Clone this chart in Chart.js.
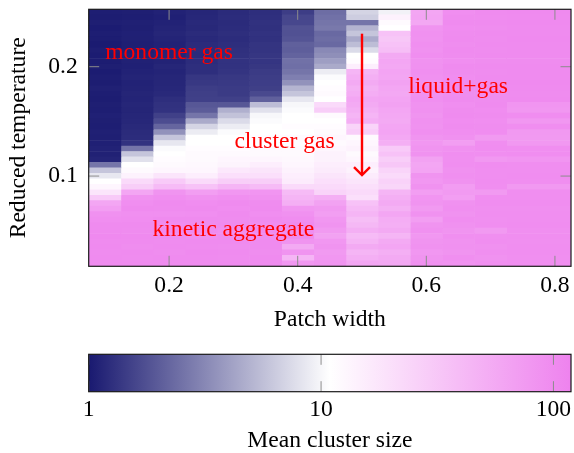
<!DOCTYPE html>
<html>
<head>
<meta charset="utf-8">
<script src="https://cdn.jsdelivr.net/npm/chart.js@4.4.1/dist/chart.umd.min.js"></script>
<style>
  html, body { margin: 0; padding: 0; background: #fff; }
  #wrap { position: relative; width: 574px; height: 453px; }
  #main { position: absolute; left: 0; top: 0; }
  #bar { position: absolute; left: 0; top: 340px; }
</style>
</head>
<body>
<div id="wrap">
  <canvas id="main" width="574" height="340"></canvas>
  <canvas id="bar" width="574" height="113"></canvas>
</div>
<script>
// reduced temperature of each row, top to bottom
const temps = [0.25, 0.245, 0.24, 0.235, 0.23, 0.225, 0.22, 0.215, 0.21, 0.205, 0.2,
  0.195, 0.19, 0.185, 0.18, 0.175, 0.17, 0.165, 0.16, 0.155, 0.15,
  0.145, 0.14, 0.135, 0.13, 0.125, 0.12, 0.115, 0.11, 0.105, 0.1,
  0.095, 0.09, 0.085, 0.08, 0.075, 0.07, 0.065, 0.06, 0.055, 0.05,
  0.045, 0.04, 0.035, 0.03, 0.025, 0.02];

// patch width cell edges (last column is wider)
const xEdges = [0.075, 0.125, 0.175, 0.225, 0.275, 0.325, 0.375, 0.425, 0.475, 0.525, 0.575, 0.625, 0.675, 0.725, 0.825];

// mean cluster size per patch width column, rows follow temps
const w010 = [1.05,1.04,1.06,1.03,1.05,1.04,1.02,1.05,1.03,1.04,1.06,1.03,1.05,1.04,1.07,1.05,1.04,1.06,1.05,1.08,1.06,1.05,1.07,1.06,1.08,1.10,1.09,1.12,2.6,6,8.5,11,13,18,30,60,70,90,95,100,100,105,100,102,98,100,100];
const w015 = [1.06,1.05,1.07,1.06,1.08,1.07,1.06,1.08,1.1,1.09,1.08,1.1,1.12,1.1,1.11,1.13,1.12,1.14,1.13,1.15,1.16,1.18,1.2,1.22,1.3,2.6,6,8,11,12,14,22,28,60,88,95,100,92,96,100,98,102,100,97,100,99,101];
const w020 = [1.1,1.08,1.1,1.12,1.15,1.12,1.1,1.12,1.13,1.11,1.14,1.12,1.15,1.14,1.16,1.18,1.25,1.28,1.3,1.5,1.7,2.2,3.5,6,8.5,10.5,11,11.5,12,13,18,30,40,85,95,100,98,92,100,96,100,102,99,100,97,100,100];
const w025 = [1.15,1.16,1.18,1.17,1.2,1.18,1.2,1.22,1.2,1.22,1.24,1.25,1.35,1.38,1.45,1.48,1.5,1.9,2.0,2.6,4.5,7,9,11,11,11.5,12,12,12.5,13,15,22,35,70,88,96,100,95,100,98,100,96,100,99,102,100,100];
const w030 = [1.2,1.22,1.2,1.22,1.24,1.22,1.25,1.27,1.28,1.3,1.3,1.32,1.38,1.4,1.42,1.42,1.5,1.9,4.8,5.8,7.5,9,10.5,11,11,11.5,12,13,13.5,17,20,28,45,80,92,100,96,100,98,100,95,100,100,97,100,99,100];
const w035 = [1.25,1.26,1.28,1.27,1.3,1.28,1.32,1.33,1.35,1.34,1.36,1.42,1.45,1.46,1.48,1.65,2.1,5.5,8,10,10.5,11,11,11.5,11,12,12,13,15,18,20,28,40,82,90,98,100,95,100,96,100,98,100,100,97,100,100];
const w040 = [1.45,1.6,1.62,1.8,1.78,1.85,2.1,2.05,2.15,2.5,2.45,2.6,2.9,3.5,5,6,8.5,10,10.5,11,11,11.5,11,12,11.5,12,12,12.5,13,14,15,16,22,40,45,50,80,90,96,100,95,100,85,55,85,45,80];
const w045 = [2.4,2.5,2.6,2.7,2.3,2.4,2.3,3.2,3.4,4,4.5,9,10.5,11,11.5,12,11,22,28,12,11,11.5,12,13,12,13,14,14,15,16,18,20,22,25,50,65,75,70,80,85,75,65,80,85,75,80,85];
const w050 = [7,6.5,2.6,5,6,4.5,5.5,7.5,11,11.5,15,45,50,55,48,52,60,55,50,45,50,25,28,12,13,14,12,13,15,14,16,18,20,22,20,35,40,45,38,42,50,40,45,55,45,50,60];
const w055 = [9.5,14,12,11,35,32,35,38,55,60,58,62,60,65,60,58,62,65,60,58,55,60,62,58,50,30,35,28,32,25,22,26,24,45,50,55,48,60,52,50,55,45,55,60,50,55,58];
const w060 = [60,62,58,85,90,88,92,90,95,88,90,92,90,88,95,90,92,88,90,85,90,88,92,85,80,85,88,65,60,62,85,80,88,70,82,85,75,88,70,85,90,80,85,88,80,85,90];
const w065 = [95,98,100,96,98,100,97,100,98,95,100,98,96,100,98,97,100,95,98,100,96,98,95,90,70,90,95,92,95,90,92,88,72,75,70,90,92,88,95,90,85,92,88,90,85,92,88];
const w070 = [100,98,100,97,100,99,100,98,100,97,100,98,100,99,100,97,98,100,96,98,95,97,96,75,95,96,94,78,96,95,94,96,95,75,94,96,93,95,92,94,75,92,95,90,93,88,92];
const w080 = [102,100,103,101,100,102,100,101,100,99,101,100,100,102,100,99,100,82,80,96,80,95,76,75,78,95,96,82,95,94,96,95,76,95,94,96,93,95,94,96,92,95,93,94,95,92,94];
const columns = [w010, w015, w020, w025, w030, w035, w040, w045, w050, w055, w060, w065, w070, w080];

const xTicks = [0.2, 0.4, 0.6, 0.8];
const yTicks = [0.1, 0.2];
const barTicks = [1, 10, 100];
const vMax = 119;

const labelTexts = ['monomer gas', 'cluster gas', 'liquid+gas', 'kinetic aggregate'];
const labelX = [0.2, 0.3795, 0.6495, 0.3];
const labelY = [0.2067, 0.1259, 0.1762, 0.0451];

const LOW = [25, 25, 112], MID = [255, 255, 255], HIGH = [238, 130, 238];
const FONT = '"Liberation Serif", "Times New Roman", serif';
const FS = 23.6;

Chart.defaults.font.family = FONT;
Chart.defaults.color = '#000';

function cmap(v) {
  let t = Math.log10(v) / Math.log10(vMax);
  t = Math.max(0, Math.min(1, t));
  let a, b, f;
  if (t < 0.5) { a = LOW; b = MID; f = t / 0.5; } else { a = MID; b = HIGH; f = (t - 0.5) / 0.5; }
  const c = a.map((x, i) => Math.round(x + (b[i] - x) * f));
  return `rgb(${c[0]},${c[1]},${c[2]})`;
}

// no label overhang padding, the layout padding decides the plot box
function noOverhang(s) {
  s.paddingTop = 0; s.paddingBottom = 0; s.paddingLeft = 0; s.paddingRight = 0;
}

function innerTicks(ctx, area, xs, ys, xScale, yScale) {
  ctx.strokeStyle = '#8c8c8c';
  ctx.lineWidth = 1;
  const L = 10.5;
  ctx.beginPath();
  xs.forEach(v => {
    const p = xScale.getPixelForValue(v);
    ctx.moveTo(p, area.top); ctx.lineTo(p, area.top + L);
    ctx.moveTo(p, area.bottom); ctx.lineTo(p, area.bottom - L);
  });
  ys.forEach(v => {
    const p = yScale.getPixelForValue(v);
    ctx.moveTo(area.left, p); ctx.lineTo(area.left + L, p);
    ctx.moveTo(area.right, p); ctx.lineTo(area.right - L, p);
  });
  ctx.stroke();
}

const overlay = {
  id: 'overlay',
  afterDatasetsDraw(chart) {
    const {ctx, chartArea: a, scales: {x, y}} = chart;
    ctx.save();
    innerTicks(ctx, a, xTicks, yTicks, x, y);

    ctx.fillStyle = '#ff0000';
    ctx.font = `${FS}px ${FONT}`;
    ctx.textAlign = 'center';
    ctx.textBaseline = 'alphabetic';
    labelTexts.forEach((s, i) => ctx.fillText(s, x.getPixelForValue(labelX[i]), y.getPixelForValue(labelY[i])));

    // arrow down the 0.5 column
    const ax = x.getPixelForValue(0.5);
    const y0 = y.getPixelForValue(0.2302);
    const y1 = y.getPixelForValue(0.1009);
    ctx.strokeStyle = '#ff0000';
    ctx.lineWidth = 2.4;
    ctx.beginPath(); ctx.moveTo(ax, y0); ctx.lineTo(ax, y1 - 1); ctx.stroke();
    ctx.beginPath(); ctx.moveTo(ax - 8, y1 - 8); ctx.lineTo(ax, y1); ctx.lineTo(ax + 8, y1 - 8); ctx.stroke();

    ctx.strokeStyle = '#1a1a1a';
    ctx.lineWidth = 1.2;
    ctx.strokeRect(a.left, a.top, a.right - a.left, a.bottom - a.top);
    ctx.restore();
  }
};

const datasets = columns.map((vals, c) => ({
  data: temps.map((t, i) => ({ y: t, x: [xEdges[c], xEdges[c + 1]] })),
  backgroundColor: vals.map(cmap),
  borderWidth: 0,
  grouped: false,
  barPercentage: 1,
  categoryPercentage: 1
}));

new Chart(document.getElementById('main'), {
  type: 'bar',
  data: { datasets },
  options: {
    indexAxis: 'y',
    responsive: false,
    animation: false,
    events: [],
    layout: { padding: { top: 9.3, right: 3, left: 0, bottom: 0 } },
    plugins: { legend: { display: false }, tooltip: { enabled: false } },
    scales: {
      x: {
        type: 'linear', min: 0.075, max: 0.825,
        grid: { display: false }, border: { display: false },
        afterBuildTicks: s => { s.ticks = xTicks.map(v => ({ value: v })); },
        afterFit: s => { s.height = 73.7; noOverhang(s); },
        ticks: { padding: -3, maxRotation: 0, font: { size: FS }, callback: v => Number(v).toFixed(1) },
        title: { display: true, text: 'Patch width', font: { size: FS }, padding: { top: 0, bottom: 6.3 } }
      },
      y: {
        type: 'linear', min: 0.0175, max: 0.2525, offset: false,
        grid: { display: false, offset: false }, border: { display: false },
        afterBuildTicks: s => { s.ticks = yTicks.map(v => ({ value: v })); },
        afterFit: s => { s.width = 88.7; noOverhang(s); },
        ticks: { padding: 3, font: { size: FS }, callback: v => Number(v).toFixed(1) },
        title: { display: true, text: 'Reduced temperature', font: { size: FS }, padding: { top: 5, bottom: 0 } }
      }
    }
  },
  plugins: [overlay]
});

// colour bar
function barGradient(chart) {
  const x = chart.scales.x;
  if (!chart.chartArea || !x) return cmap(1);
  const p0 = x.getPixelForValue(1), p1 = x.getPixelForValue(vMax);
  const g = chart.ctx.createLinearGradient(p0, 0, p1, 0);
  g.addColorStop(0, cmap(1));
  g.addColorStop(0.5, cmap(Math.sqrt(vMax)));
  g.addColorStop(1, cmap(vMax));
  return g;
}

const barFrame = {
  id: 'barFrame',
  afterDatasetsDraw(chart) {
    const {ctx, chartArea: a, scales: {x, y}} = chart;
    ctx.save();
    innerTicks(ctx, a, barTicks, [], x, y);
    ctx.strokeStyle = '#1a1a1a';
    ctx.lineWidth = 1.2;
    ctx.strokeRect(a.left, a.top, a.right - a.left, a.bottom - a.top);
    ctx.restore();
  }
};

new Chart(document.getElementById('bar'), {
  type: 'bar',
  data: {
    labels: [''],
    datasets: [{
      data: [[1, vMax]],
      backgroundColor: c => barGradient(c.chart),
      borderWidth: 0,
      barPercentage: 1,
      categoryPercentage: 1
    }]
  },
  options: {
    indexAxis: 'y',
    responsive: false,
    animation: false,
    events: [],
    layout: { padding: { left: 88.7, right: 3, top: 14.3, bottom: 0 } },
    plugins: { legend: { display: false }, tooltip: { enabled: false } },
    scales: {
      y: { display: false },
      x: {
        type: 'logarithmic', min: 1, max: vMax,
        grid: { display: false }, border: { display: false },
        afterBuildTicks: s => { s.ticks = barTicks.map(v => ({ value: v })); },
        afterFit: s => { s.height = 61.3; noOverhang(s); },
        ticks: { padding: -4, maxRotation: 0, font: { size: FS }, callback: v => String(v) },
        title: { display: true, text: 'Mean cluster size', font: { size: FS }, padding: { top: 0, bottom: -1.5 } }
      }
    }
  },
  plugins: [barFrame]
});
</script>
</body>
</html>
